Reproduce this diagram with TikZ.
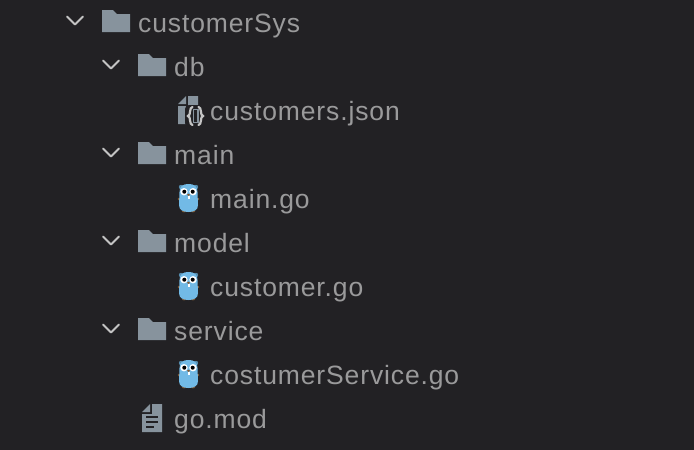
\documentclass[tikz,border=0pt]{standalone}
\usepackage{fontspec}
\setmainfont[LetterSpace=3.3]{Liberation Sans}
\definecolor{bgc}{HTML}{222124}
\definecolor{txt}{HTML}{9A9A9B}
\definecolor{icon}{HTML}{87939D}
\definecolor{chev}{HTML}{C4C4C4}
\definecolor{gopher}{HTML}{72BAE6}
\tikzset{
  x=1pt,y=-1pt,
  lbl/.style={anchor=base west,inner sep=0pt,text=txt,font=\fontsize{26.5}{30}\selectfont},
  pics/chevron/.style={code={\draw[chev,line width=1.9pt,line cap=round,line join=round] (-8,-4)--(0,4)--(8,-4);}},
  pics/folder/.style={code={\fill[icon] (0,0)--(11,0)--(15,4)--(28,4)--(28,22)--(0,22)--cycle;}},
  pics/fileicon/.style={code={
    \fill[icon] (10,0)--(20,0)--(20,28)--(0,28)--(0,10)--(10,10)--cycle;
    \fill[icon] (0,8)--(8,0)--(8,8)--cycle;
    \fill[bgc] (4,11.5) rectangle (16,13.5);
    \fill[bgc] (4,16.5) rectangle (16,18.5);
    \fill[bgc] (4,21.5) rectangle (12,23.5);
  }},
  pics/jsonicon/.style={code={
    \fill[icon] (10,0)--(20,0)--(20,28)--(0,28)--(0,10)--(10,10)--cycle;
    \fill[icon] (0,8)--(8,0)--(8,8)--cycle;
    \fill[bgc,rounded corners=4pt] (7,9) rectangle (28,31);
    \fill[icon] (14.5,13) rectangle (20.5,27);
    \draw[chev,line width=2.2pt,line cap=round]
      (14.5,11) .. controls (11,11) and (13,20) .. (10,20) .. controls (13,20) and (11,29) .. (14.5,29);
    \draw[chev,line width=2.2pt,line cap=round]
      (20.5,11) .. controls (24,11) and (22,20) .. (25,20) .. controls (22,20) and (24,29) .. (20.5,29);
    \fill[bgc] (16,14) rectangle (19,26);
  }},
  pics/gopher/.style={code={
    \fill[gopher!75!black] (3,3) circle (2.2);
    \fill[gopher!75!black] (18,3) circle (2.2);
    \fill[bgc!40!brown] (1,15) circle (1.3);
    \fill[bgc!40!brown] (20,15) circle (1.3);
    \fill[bgc!40!brown] (6,27.3) ellipse (2 and 1);
    \fill[bgc!40!brown] (15,27.3) ellipse (2 and 1);
    \fill[gopher] (1.5,8) .. controls (1.5,2) and (5,0) .. (10.5,0) .. controls (16,0) and (19.5,2) .. (19.5,8)
      -- (20,21) .. controls (20,26) and (16,28) .. (10.5,28) .. controls (5,28) and (1,26) .. (1,21) -- cycle;
    \fill[white] (6,7.7) circle (3.7);
    \fill[white] (15,7.7) circle (3.7);
    \fill[black] (6.3,7.7) circle (2);
    \fill[black] (14.7,7.7) circle (2);
    \fill[white] (9.5,12) rectangle (11.5,15);
    \fill[brown!70!black] (10.5,10.8) ellipse (1.6 and 1.1);
  }},
}
\begin{document}
\begin{tikzpicture}
\useasboundingbox (0,0) rectangle (694,450);
\fill[bgc] (0,0) rectangle (694,450);
\pic at (75,20.5) {chevron};
\pic at (111,64.5) {chevron};
\pic at (111,152.5) {chevron};
\pic at (111,240.5) {chevron};
\pic at (111,328.5) {chevron};
\pic at (102,10) {folder};
\pic at (138,54) {folder};
\pic at (138,142) {folder};
\pic at (138,230) {folder};
\pic at (138,318) {folder};
\pic at (178,96) {jsonicon};
\pic at (178,184) {gopher};
\pic at (178,272) {gopher};
\pic at (178,360) {gopher};
\pic at (142,404) {fileicon};
\node[lbl] (n1) at (138,32) {customerSys};
\node[lbl] (n2) at (174,76) {db};
\node[lbl] (n3) at (210,120) {customers.json};
\node[lbl] (n4) at (174,164) {main};
\node[lbl] (n5) at (210,208) {main.go};
\node[lbl] (n6) at (174,252) {model};
\node[lbl] (n7) at (210,296) {customer.go};
\node[lbl] (n8) at (174,340) {service};
\node[lbl] (n9) at (210,384) {costumerService.go};
\node[lbl] (n10) at (174,428) {go.mod};
\end{tikzpicture}
\end{document}
